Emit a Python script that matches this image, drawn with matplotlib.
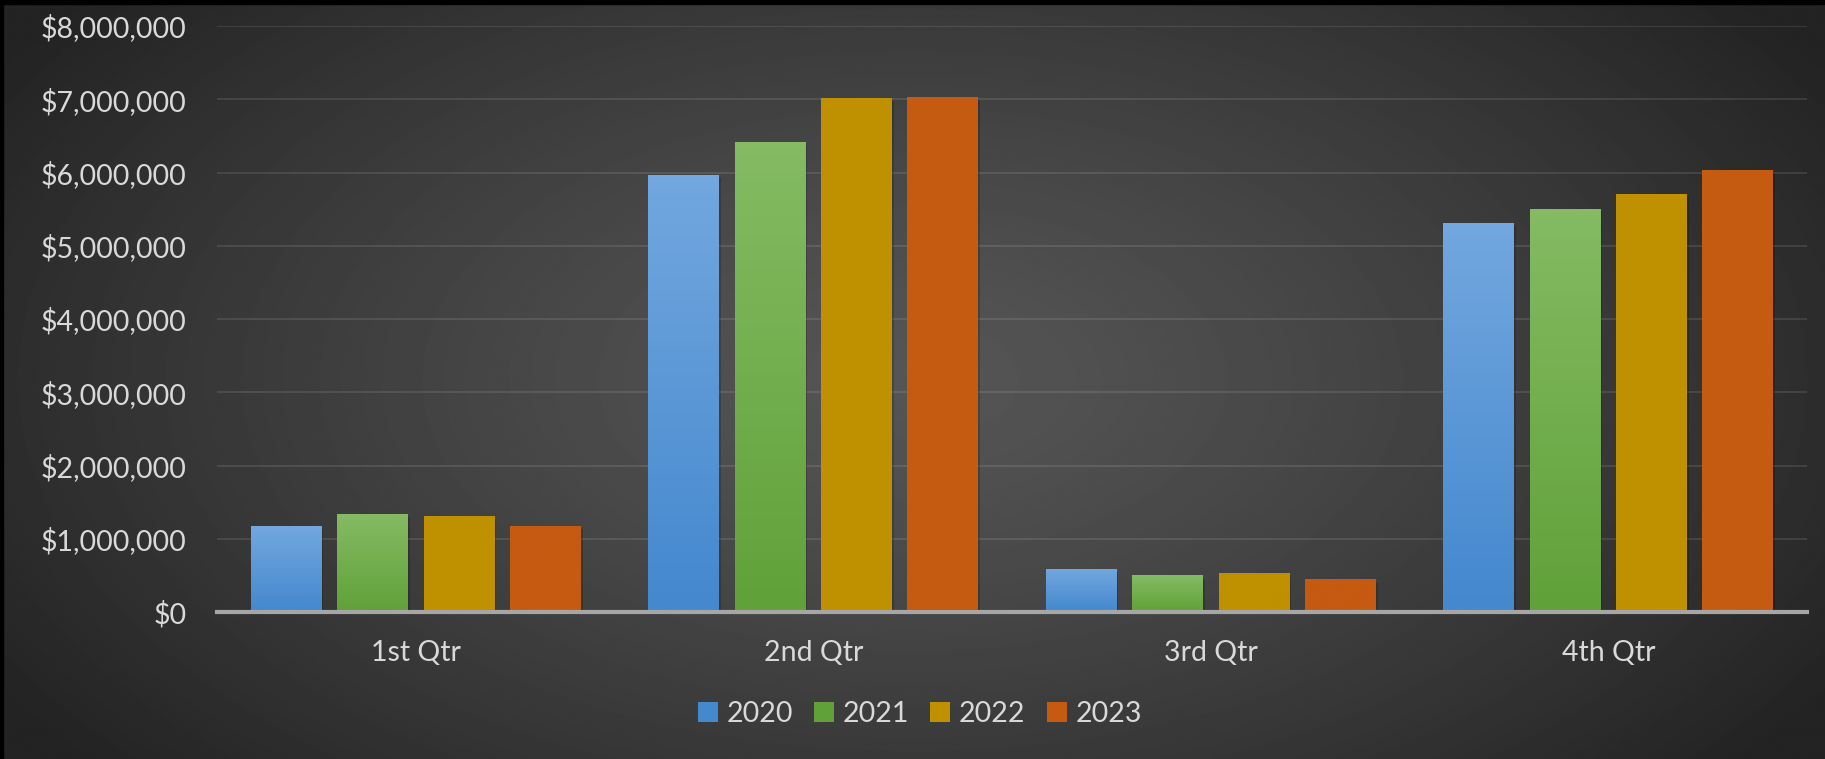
import matplotlib.pyplot as plt
import numpy as np
from matplotlib.patches import Patch, Rectangle
from matplotlib.colors import LinearSegmentedColormap
from matplotlib.ticker import FuncFormatter

# quarterly totals per year
quarters = ['1st Qtr', '2nd Qtr', '3rd Qtr', '4th Qtr']
years = ['2020', '2021', '2022', '2023']
sales_2020 = [1173000, 5960000, 587000, 5310000]
sales_2021 = [1337000, 6410000, 495000, 5500000]
sales_2022 = [1305000, 7010000, 523000, 5700000]
sales_2023 = [1173000, 7030000, 437000, 6030000]

series = [sales_2020, sales_2021, sales_2022, sales_2023]
# (top colour, bottom colour) for each year
fills = [('#72a7df', '#4488ce'),
         ('#84bb63', '#61a139'),
         ('#bf9000', '#bf9000'),
         ('#c55a11', '#c55a11')]

plt.rcParams['font.family'] = ['Lato', 'DejaVu Sans']
text_col = '#d9d9d9'

fig = plt.figure(figsize=(18.25, 7.59), dpi=100)

# radial background
bg = fig.add_axes([0, 0, 1, 1])
yy, xx = np.mgrid[0:1:400j, 0:1:900j]
r = np.sqrt(((xx - 0.5) / 0.6) ** 2 + ((yy - 0.5) / 0.8) ** 2)
shade = np.clip(0.335 - 0.2 * r ** 1.25, 0.14, 0.34)
bg.imshow(shade, cmap='gray', vmin=0, vmax=1, aspect='auto',
          extent=(0, 1, 0, 1), interpolation='bilinear')
bg.add_patch(Rectangle((0, 1 - 4 / 759), 1, 4 / 759, color='black'))
bg.add_patch(Rectangle((0, 0), 3 / 1825, 1, color='black'))
bg.set_xlim(0, 1)
bg.set_ylim(0, 1)
bg.axis('off')

ax = fig.add_axes([217 / 1825, 1 - 612 / 759, 1590 / 1825, 586 / 759])
ax.patch.set_alpha(0)

slot = 0.2176
width = 0.1786
x = np.arange(len(quarters))
for i, (vals, (top, bot)) in enumerate(zip(series, fills)):
    pos = x + (i - 1.5) * slot
    cmap = LinearSegmentedColormap.from_list('g%d' % i, [bot, top])
    for p, v in zip(pos, vals):
        # soft shadow
        ax.add_patch(Rectangle((p - width / 2 + 0.005, 0), width, v - 40000,
                               color='black', alpha=0.18, lw=0, zorder=2))
        ax.imshow(np.linspace(0, 1, 64).reshape(-1, 1), cmap=cmap,
                  origin='lower', aspect='auto', zorder=3,
                  extent=(p - width / 2, p + width / 2, 0, v))

ax.set_xlim(-0.5, 3.5)
ax.set_ylim(0, 8000000)
ax.set_yticks(np.arange(0, 8000001, 1000000))
ax.yaxis.set_major_formatter(FuncFormatter(lambda v, _: '${:,.0f}'.format(v)))
ax.set_xticks(x)
ax.set_xticklabels(quarters)
ax.grid(axis='y', color='white', alpha=0.1, linewidth=1.5, zorder=0)
ax.set_axisbelow(True)
for s in ['top', 'right', 'left']:
    ax.spines[s].set_visible(False)
ax.spines['bottom'].set_color('#a6a6a6')
ax.spines['bottom'].set_linewidth(3)
ax.spines['bottom'].set_zorder(4)
ax.tick_params(axis='both', length=0, colors=text_col, labelsize=20.5)
ax.tick_params(axis='y', pad=22)
ax.tick_params(axis='x', pad=20)

handles = [Patch(facecolor=bot, edgecolor='none') for _, bot in fills]
fig.legend(handles, years, loc='center', bbox_to_anchor=(0.504, 1 - 714 / 759),
           ncol=4, frameon=False, fontsize=20.5, labelcolor=text_col,
           handlelength=0.7, handleheight=0.7, handletextpad=0.3,
           columnspacing=0.75)

fig.savefig('out.png', dpi=100)
